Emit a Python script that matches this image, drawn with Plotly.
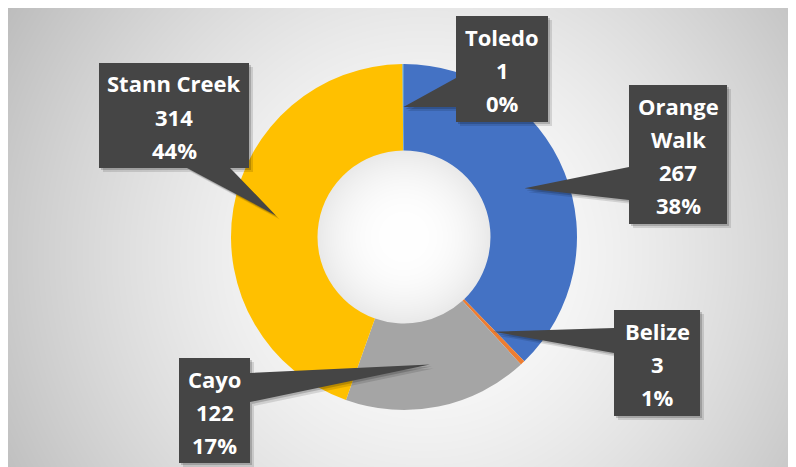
import zlib, struct, base64
import numpy as np
import plotly.graph_objects as go

PAGE_W, PAGE_H = 796, 467
OFF = 8  # the page places the figure 8px from the window's top-left corner
W, H = PAGE_W - OFF, PAGE_H - OFF

# ---- data ----
regions = ["Orange Walk", "Belize", "Cayo", "Stann Creek", "Toledo"]
counts = [267, 3, 122, 314, 1]
percent_labels = ["38%", "1%", "17%", "44%", "0%"]
colors = ["#4472C4", "#ED7D31", "#A5A5A5", "#FFC000", "#5B9BD5"]

# ---- geometry / layout constants (window pixel coordinates) ----
CX, CY, R_OUT, HOLE = 404, 237, 173, 0.5
R_TIP = 130
LINE_GAP = 33
FONT = "Open Sans"
FONT_SIZE = 22

callouts = {
    "Orange Walk": dict(box=(629, 85, 727, 224), side="left", base=(167, 200), lines=["Orange", "Walk"]),
    "Belize": dict(box=(614, 310, 700, 416), side="left", base=(328, 353)),
    "Cayo": dict(box=(179, 358, 250, 463), side="right", base=(373, 402)),
    "Stann Creek": dict(box=(99, 63, 249, 168), side="bottom", base=(187, 230)),
    "Toledo": dict(box=(456, 16, 548, 122), side="left", base=(78, 107)),
}


def px(x):
    return (x - OFF) / W


def py(y):
    return 1 - (y - OFF) / H


# ---- background gradient image (covers the whole figure) ----
yy, xx = np.mgrid[0:H, 0:W]
xx = xx + OFF + 0.5
yy = yy + OFF + 0.5
d_in = np.hypot(xx - CX, yy - CY)
d_out = np.hypot(xx - 425, yy - 255)
outer = 250 - 54 * np.clip((d_out - 90) / 360, 0, None) ** 1.3
inner = 255 - 22 * (d_in / (R_OUT * HOLE)) ** 2.5
g = np.where(d_in < R_OUT * HOLE + 2, inner, outer)
g = np.clip(g, 0, 255).astype(np.uint8)


def png_gray(arr):
    h, w = arr.shape
    raw = b"".join(b"\x00" + arr[i].tobytes() for i in range(h))

    def chunk(t, d):
        c = struct.pack(">I", len(d)) + t + d
        return c + struct.pack(">I", zlib.crc32(t + d) & 0xFFFFFFFF)

    return (b"\x89PNG\r\n\x1a\n" + chunk(b"IHDR", struct.pack(">IIBBBBB", w, h, 8, 0, 0, 0, 0))
            + chunk(b"IDAT", zlib.compress(raw, 9)) + chunk(b"IEND", b""))


bg_uri = "data:image/png;base64," + base64.b64encode(png_gray(g)).decode()

# ---- figure ----
fig = go.Figure()
fig.add_trace(go.Pie(
    labels=regions, values=counts, hole=HOLE, sort=False, direction="clockwise", rotation=0,
    marker=dict(colors=colors, line=dict(width=0)), textinfo="none", hoverinfo="label+value+percent",
    domain=dict(x=[px(CX - R_OUT), px(CX + R_OUT)], y=[py(CY + R_OUT), py(CY - R_OUT)]),
))

shapes = []
annotations = []
total = sum(counts)
cum = 0
for name, cnt, pct in zip(regions, counts, percent_labels):
    mid = (cum + cnt / 2) / total * 2 * np.pi
    cum += cnt
    tip = (CX + R_TIP * np.sin(mid), CY - R_TIP * np.cos(mid))
    cfg = callouts[name]
    x0, y0, x1, y1 = cfg["box"]
    b0, b1 = cfg["base"]
    pts = [(x0, y0), (x1, y0)]
    if cfg["side"] == "right":
        pts += [(x1, b0), tip, (x1, b1)]
    pts += [(x1, y1)]
    if cfg["side"] == "bottom":
        pts += [(b1, y1), tip, (b0, y1)]
    pts += [(x0, y1)]
    if cfg["side"] == "left":
        pts += [(x0, b1), tip, (x0, b0)]

    def path(offx=0, offy=0):
        return "M " + " L ".join(f"{px(a + offx):.5f},{py(b + offy):.5f}" for a, b in pts) + " Z"

    shapes.append(dict(type="path", path=path(4, 4), xref="paper", yref="paper",
                       fillcolor="rgba(0,0,0,0.12)", line=dict(width=0), layer="above"))
    shapes.append(dict(type="path", path=path(2, 2), xref="paper", yref="paper",
                       fillcolor="rgba(0,0,0,0.18)", line=dict(width=0), layer="above"))
    shapes.append(dict(type="path", path=path(), xref="paper", yref="paper",
                       fillcolor="#454545", line=dict(width=0), layer="above"))

    lines = cfg.get("lines", [name]) + [str(cnt), pct]
    n = len(lines)
    yc = (y0 + y1) / 2 + 1
    for i, t in enumerate(lines):
        ly = yc + (i - (n - 1) / 2) * LINE_GAP
        annotations.append(dict(text=f"<b>{t}</b>", x=px((x0 + x1) / 2), y=py(ly), xref="paper", yref="paper",
                                xanchor="center", yanchor="middle", showarrow=False,
                                font=dict(family=FONT, size=FONT_SIZE, color="white")))

fig.update_layout(
    width=W, height=H, margin=dict(l=0, r=0, t=0, b=0),
    paper_bgcolor="white", plot_bgcolor="white", showlegend=False,
    shapes=shapes, annotations=annotations,
    images=[dict(source=bg_uri, xref="paper", yref="paper", x=0, y=1,
                 sizex=1, sizey=1, sizing="stretch", xanchor="left", yanchor="top", layer="below")],
)

fig.write_html("out.html")
